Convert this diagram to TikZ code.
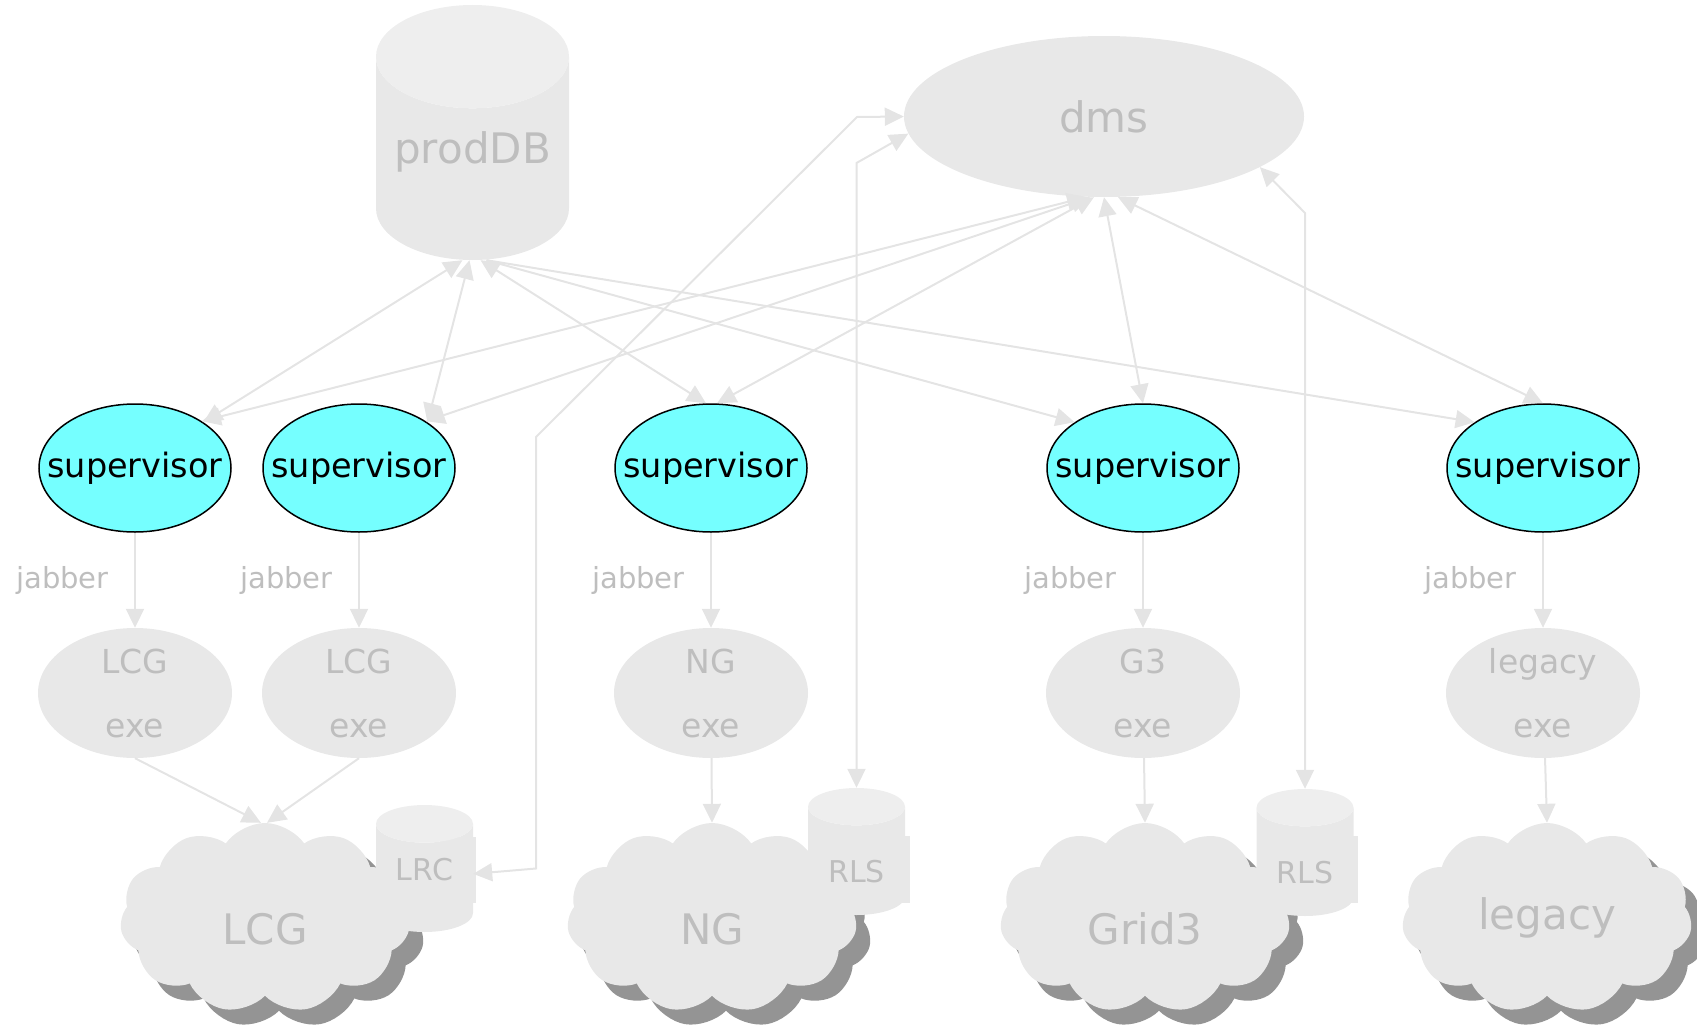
\documentclass[tikz,border=0pt]{standalone}
\usepackage{fontspec}
\setmainfont{DejaVu Sans}
\usepackage{tikz}
\usetikzlibrary{calc,arrows.meta,shapes.geometric,shapes.symbols,shadows}
\definecolor{lightfill}{RGB}{232,232,232}
\definecolor{topfill}{RGB}{238,238,238}
\definecolor{txtgray}{RGB}{190,190,190}
\definecolor{linegray}{RGB}{228,228,228}
\definecolor{shadowgray}{RGB}{148,148,148}
\definecolor{supcyan}{RGB}{117,255,255}
\begin{document}
\begin{tikzpicture}[x=1pt,y=-1pt,>={Triangle[length=19pt,width=18pt]},
  sup/.style={ellipse,draw=black,line width=1.5pt,fill=supcyan,minimum width=192pt,minimum height=128pt,inner xsep=-22pt,inner ysep=0pt,font=\fontsize{33.5}{38}\selectfont},
  exe/.style={ellipse,fill=lightfill,minimum width=194pt,minimum height=130pt,inner xsep=0pt,inner ysep=-4pt,text=txtgray,align=center,font=\fontsize{33}{64}\selectfont},
  cyl/.style={cylinder,shape border rotate=90,anchor=shape center,cylinder uses custom fill,cylinder body fill=lightfill,cylinder end fill=topfill,text=txtgray,inner sep=0pt},
  cld/.style={cloud,cloud puffs=11,cloud puff arc=110,aspect=1.5,fill=lightfill,minimum width=290pt,minimum height=190pt,text=txtgray,font=\fontsize{42}{48}\selectfont,drop shadow={shadow xshift=14pt,shadow yshift=-15pt,fill=shadowgray,opacity=1}},
  con/.style={draw=linegray,line width=2pt},
  jab/.style={text=txtgray,font=\fontsize{29}{34}\selectfont}]
\useasboundingbox(0,0)rectangle(1697,1033);
\node[cyl,minimum width=193pt,minimum height=255pt,aspect=0.66,font=\fontsize{42}{48}\selectfont](db)at(472.5,132.5){\raisebox{-5pt}[0pt][0pt]{prodDB}};
\node[ellipse,fill=lightfill,minimum width=400pt,minimum height=161pt,text=txtgray,font=\fontsize{42}{48}\selectfont](dms)at(1104,116.5){dms};
\node[sup](s1)at(135,468){supervisor};
\node[sup](s2)at(359,468){supervisor};
\node[sup](s3)at(711,468){supervisor};
\node[sup](s4)at(1143,468){supervisor};
\node[sup](s5)at(1543,468){supervisor};
\node[exe](e1)at(135,693){LCG\\exe};
\node[exe](e2)at(359,693){LCG\\exe};
\node[exe](e3)at(711,693){NG\\exe};
\node[exe](e4)at(1143,693){G3\\exe};
\node[exe](e5)at(1543,693){legacy\\exe};
\node[cld](c1)at(265,918){\raisebox{-26pt}[0pt][0pt]{LCG}};
\node[cld](c2)at(712,918){\raisebox{-26pt}[0pt][0pt]{NG}};
\node[cld](c3)at(1145,918){\raisebox{-26pt}[0pt][0pt]{Grid3}};
\node[cld](c4)at(1547,918){legacy};
\fill[lightfill](440,837)rectangle(476,903);
\fill[lightfill](870,836)rectangle(910,903);
\fill[lightfill](1318,836)rectangle(1358,903);
\node[cyl,minimum width=97pt,minimum height=127pt,aspect=0.66,font=\fontsize{30}{36}\selectfont](lrc)at(424.5,868.5){\raisebox{-2pt}[0pt][0pt]{LRC}};
\node[cyl,minimum width=97pt,minimum height=127pt,aspect=0.66,font=\fontsize{30}{36}\selectfont](r1)at(856.5,851.5){\raisebox{-22pt}[0pt][0pt]{RLS}};
\node[cyl,minimum width=97pt,minimum height=127pt,aspect=0.66,font=\fontsize{30}{36}\selectfont](r2)at(1305,852.5){\raisebox{-22pt}[0pt][0pt]{RLS}};
\draw[con,<->]([xshift=-10pt]db.south)--(s1.north east);
\draw[con,<->]([xshift=-3pt]db.south)--(s2.north east);
\draw[con,<->]([xshift=8pt]db.south)--([xshift=-5pt]s3.north);
\draw[con,->]([xshift=14pt]db.south)--(s4.north west);
\draw[con,->]([xshift=14pt]db.south)--(s5.north west);
\draw[con,<->]([xshift=-18pt]dms.south)--(s1.35);
\draw[con,<->]([xshift=-14pt]dms.south)--(s2.35);
\draw[con,<->]([xshift=-10pt]dms.south)--([xshift=6pt]s3.north);
\draw[con,<->]([xshift=0pt]dms.south)--(s4.north);
\draw[con,<->]([xshift=14pt]dms.south)--(s5.north);
\draw[con,->](s1)--(e1)node[jab,midway,left=22pt]{jabber};
\draw[con,->](s2)--(e2)node[jab,midway,left=22pt]{jabber};
\draw[con,->](s3)--(e3)node[jab,midway,left=22pt]{jabber};
\draw[con,->](s4)--(e4)node[jab,midway,left=22pt]{jabber};
\draw[con,->](s5)--(e5)node[jab,midway,left=22pt]{jabber};
\draw[con,->](e1.south)--([xshift=-4pt]c1.north);
\draw[con,->](e2.south)--([xshift=2pt]c1.north);
\draw[con,->](e3)--(c2.north);
\draw[con,->](e4)--(c3.north);
\draw[con,->](e5)--(c4.north);
\draw[con,<->](lrc)--(536,868.5)--(536,437)--(857,117)--(dms.west);
\draw[con,<->](r1)--(856.5,163)--(dms.185);
\draw[con,<->](r2)--(1305,213)--(dms.-18);
\end{tikzpicture}
\end{document}
